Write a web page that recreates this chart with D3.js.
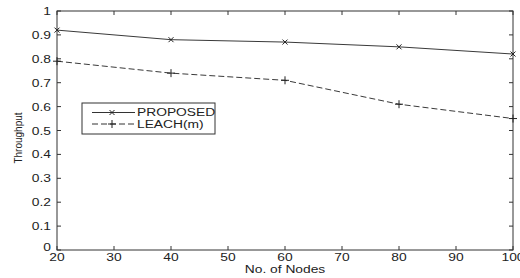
<!DOCTYPE html>
<html>
<head>
<meta charset="utf-8">
<script src="https://cdn.jsdelivr.net/npm/d3@7"></script>
<style>
  body { margin: 0; background: #fff; }
  text { font-family: "Liberation Sans", Arial, sans-serif; fill: #222; font-size: 10px; }
</style>
</head>
<body>
<div id="chart"></div>
<script>
// data
var nodes = [20, 40, 60, 80, 100];
var proposed = [0.92, 0.88, 0.87, 0.85, 0.82];
var leach = [0.79, 0.74, 0.71, 0.61, 0.55];
var xTicks = [20, 30, 40, 50, 60, 70, 80, 90, 100];
var yTicks = [0, 0.1, 0.2, 0.3, 0.4, 0.5, 0.6, 0.7, 0.8, 0.9, 1];

var W = 520, H = 278;
var margin = {top: 11, right: 7, bottom: 28, left: 57};
var width = W - margin.left - margin.right;
var height = H - margin.top - margin.bottom;

// the original figure is stretched sideways, so the text is too
var sx = 1.38;

var svg = d3.select("#chart").append("svg")
    .attr("width", W)
    .attr("height", H);

var g = svg.append("g")
    .attr("transform", "translate(" + margin.left + "," + margin.top + ")");

var x = d3.scaleLinear().domain([20, 100]).range([0, width]);
var y = d3.scaleLinear().domain([0, 1]).range([height, 0]);

function wideText(sel, tx, ty, anchor, str) {
    return sel.append("text")
        .attr("transform", "translate(" + tx + "," + ty + ") scale(" + sx + ",1)")
        .attr("text-anchor", anchor)
        .text(str);
}

// box
g.append("rect")
    .attr("width", width)
    .attr("height", height)
    .attr("fill", "none")
    .attr("stroke", "#333")
    .attr("stroke-width", 1);

// ticks, pointing inward on all four sides
var tk = 4;
xTicks.forEach(function(t) {
    g.append("line").attr("x1", x(t)).attr("x2", x(t)).attr("y1", height).attr("y2", height - tk).attr("stroke", "#333");
    g.append("line").attr("x1", x(t)).attr("x2", x(t)).attr("y1", 0).attr("y2", tk).attr("stroke", "#333");
    wideText(g, x(t), height + 11, "middle", t);
});
yTicks.forEach(function(t) {
    g.append("line").attr("x1", 0).attr("x2", tk).attr("y1", y(t)).attr("y2", y(t)).attr("stroke", "#333");
    g.append("line").attr("x1", width).attr("x2", width - tk).attr("y1", y(t)).attr("y2", y(t)).attr("stroke", "#333");
    wideText(g, -6, y(t) + (t === 0 ? 1 : 4), "end", t);
});

// axis labels
wideText(svg, margin.left + width / 2, 273, "middle", "No. of Nodes");

svg.append("text")
    .attr("transform", "translate(22,138) rotate(-90)")
    .attr("text-anchor", "middle")
    .text("Throughput");

var line = d3.line().x(function(d, i) { return x(nodes[i]); }).y(function(d) { return y(d); });

function drawX(sel, cx, cy) {
    sel.append("path")
        .attr("d", "M" + (cx - 2.5) + "," + (cy - 2.5) + "L" + (cx + 2.5) + "," + (cy + 2.5) +
                   "M" + (cx - 2.5) + "," + (cy + 2.5) + "L" + (cx + 2.5) + "," + (cy - 2.5))
        .attr("stroke", "#222").attr("fill", "none");
}
function drawPlus(sel, cx, cy) {
    sel.append("path")
        .attr("d", "M" + (cx - 4) + "," + cy + "L" + (cx + 4) + "," + cy +
                   "M" + cx + "," + (cy - 4) + "L" + cx + "," + (cy + 4))
        .attr("stroke", "#222").attr("fill", "none");
}

// PROPOSED
g.append("path")
    .datum(proposed)
    .attr("d", line)
    .attr("fill", "none")
    .attr("stroke", "#3a3a3a")
    .attr("stroke-width", 1);
proposed.forEach(function(d, i) { drawX(g, x(nodes[i]), y(d)); });

// LEACH(m)
g.append("path")
    .datum(leach)
    .attr("d", line)
    .attr("fill", "none")
    .attr("stroke", "#3a3a3a")
    .attr("stroke-width", 1)
    .attr("stroke-dasharray", "6,3");
leach.forEach(function(d, i) { drawPlus(g, x(nodes[i]), y(d)); });

// legend
var lg = svg.append("g").attr("transform", "translate(82,103)");
lg.append("rect")
    .attr("width", 133)
    .attr("height", 31)
    .attr("fill", "#fff")
    .attr("stroke", "#333");
var rows = [{name: "PROPOSED", dash: null, mark: drawX}, {name: "LEACH(m)", dash: "6,3", mark: drawPlus}];
rows.forEach(function(r, i) {
    var ry = 9.5 + i * 11.5;
    lg.append("line")
        .attr("x1", 10).attr("x2", 53)
        .attr("y1", ry).attr("y2", ry)
        .attr("stroke", "#333")
        .attr("stroke-dasharray", r.dash);
    r.mark(lg, 30, ry);
    wideText(lg, 55, ry + 3.5, "start", r.name);
});
</script>
</body>
</html>
